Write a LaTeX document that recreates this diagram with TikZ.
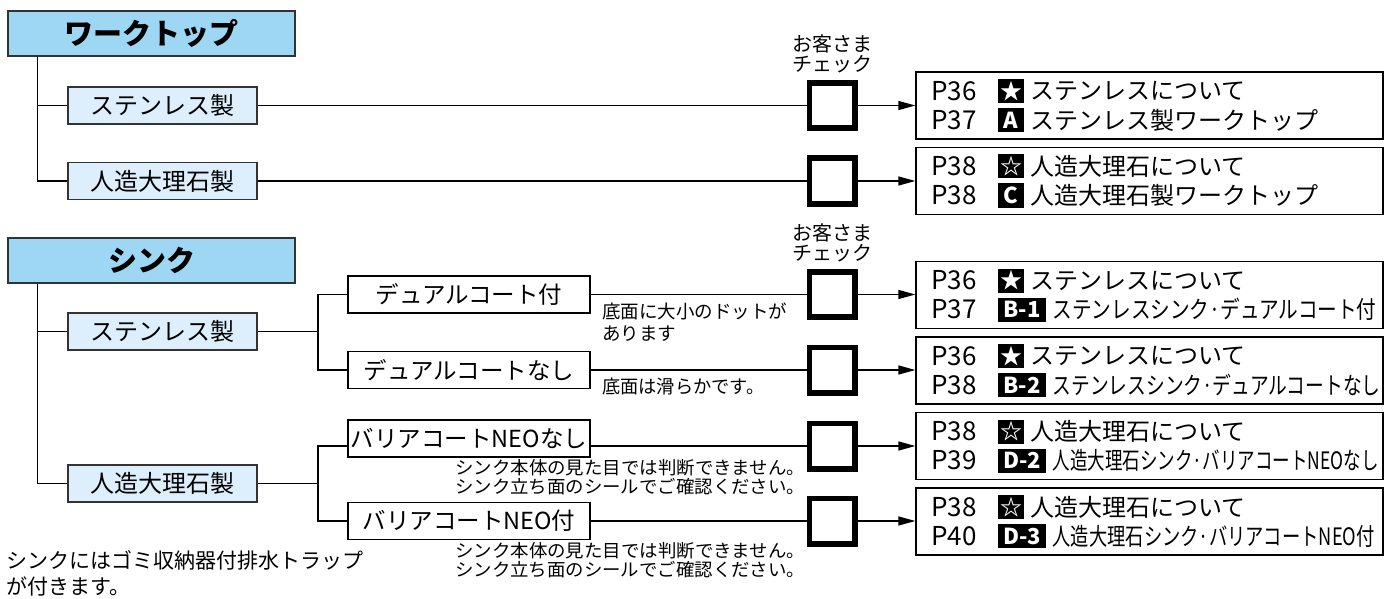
\documentclass[tikz,border=0pt]{standalone}
\usepackage{fontspec}
\setmainfont{Noto Sans CJK JP}
\usepackage{graphicx}
\usetikzlibrary{arrows.meta}
\definecolor{hdr}{HTML}{9DD7F3}
\definecolor{subfill}{HTML}{DDEFFC}
\definecolor{edge}{HTML}{333333}
\newcommand\fs[1]{\fontsize{#1}{#1}\selectfont}
\newcommand\fitw[2]{\resizebox{#1}{\height}{#2}}
\newcommand\entry[6]{%
  \node[pg] (#1p) at (931,#2) {#3};
  \node[#4] (#1b) at (998,#2) {#5};
  \node[txt] (#1t) at ([xshift=6pt]#1b.east) {#6};
}
\begin{document}
\begin{tikzpicture}[x=1pt,y=-1pt,
  hdrbox/.style={draw=edge, line width=1.5pt, fill=hdr, minimum width=287pt, minimum height=45pt, inner sep=0, font=\fs{29}\bfseries},
  subbox/.style={draw=edge, line width=1.3pt, fill=subfill, minimum width=189pt, minimum height=37pt, inner sep=0, font=\fs{24}},
  optbox/.style={draw=black, line width=1.3pt, fill=white, minimum width=242pt, minimum height=37pt, inner sep=0, font=\fs{23.5}},
  chk/.style={draw=black, fill=white, line width=5.7pt, minimum size=45.3pt, inner sep=0},
  rbox/.style={draw=black, line width=1.3pt, minimum width=467pt, minimum height=67pt, inner sep=0},
  conn/.style={line width=1.3pt},
  arr/.style={conn, -{Triangle[length=17pt,width=9pt]}},
  pg/.style={anchor=west, inner sep=0, font=\fs{26}},
  txt/.style={anchor=west, inner sep=0, font=\fs{24}},
  bsq/.style={anchor=west, fill=black, text=white, inner sep=0, minimum width=26pt, minimum height=24pt, font=\fs{22}\bfseries},
  bwide/.style={anchor=west, fill=black, text=white, inner sep=0, minimum width=48pt, minimum height=24pt, font=\fs{22}\bfseries},
  note/.style={anchor=north west, inner sep=0, align=left},
  chklabel/.style={inner sep=0, align=center, font=\fontsize{20}{20}\selectfont}
]
\useasboundingbox (0,0) rectangle (1393,599);

% ---------- Worktop ----------
\node[hdrbox] (h1) at (151.5,33.5) {ワークトップ};
\node[subbox] (w1) at (162.5,105.5) {ステンレス製};
\node[subbox] (w2) at (162.5,181) {人造大理石製};
\coordinate (t1) at ([xshift=30pt]h1.south west);
\draw[conn] (t1) |- (w1.west);
\draw[conn] (t1) |- (w2.west);

\node[chklabel] (k1) at (832,54) {お客さま\\チェック};
\node[rbox] (r1) at (1149.5,105.5) {};
\node[rbox] (r2) at (1149.5,181) {};
\draw[conn] (w1.east) -- (832,105.5) coordinate (c1in);
\draw[conn] (w2.east) -- (832,181) coordinate (c2in);
\node[chk] (c1) at (c1in) {};
\node[chk] (c2) at (c2in) {};
\draw[arr] (c1.east) -- (r1.west);
\draw[arr] (c2.east) -- (r2.west);

\entry{e1a}{91}{P36}{bsq}{★}{ステンレスについて}
\entry{e1b}{120}{P37}{bsq}{A}{ステンレス製ワークトップ}
\entry{e2a}{166.5}{P38}{bsq}{☆}{人造大理石について}
\entry{e2b}{195.5}{P38}{bsq}{C}{人造大理石製ワークトップ}

% ---------- Sink ----------
\node[hdrbox] (h2) at (151.5,260.5) {シンク};
\node[subbox] (s1) at (162.5,331.5) {ステンレス製};
\node[subbox] (s2) at (162.5,483.5) {人造大理石製};
\coordinate (t2) at ([xshift=30pt]h2.south west);
\draw[conn] (t2) |- (s1.west);
\draw[conn] (t2) |- (s2.west);

\node[optbox] (o1) at (469,294.5) {デュアルコート付};
\node[optbox] (o2) at (469,370) {デュアルコートなし};
\node[optbox] (o3) at (469,438.5) {バリアコートNEOなし};
\node[optbox] (o4) at (469,521) {バリアコートNEO付};

\coordinate (b1) at (318,331.5);
\coordinate (b2) at (318,483.5);
\draw[conn] (s1.east) -- (b1);
\draw[conn] (b1) |- (o1.west);
\draw[conn] (b1) |- (o2.west);
\draw[conn] (s2.east) -- (b2);
\coordinate (c3in) at (832,294.5);
\coordinate (c4in) at (832,370);
\coordinate (c5in) at (832,446);
\coordinate (c6in) at (832,521);
\draw[conn] (b2) |- (o3.west |- c5in);
\draw[conn] (b2) |- (o4.west);

\node[chklabel] (k2) at (832,243) {お客さま\\チェック};
\node[rbox] (r3) at (1149.5,295) {};
\node[rbox] (r4) at (1149.5,370.5) {};
\node[rbox] (r5) at (1149.5,446) {};
\node[rbox] (r6) at (1149.5,521.5) {};

\draw[conn] (o1.east) -- (c3in);
\draw[conn] (o2.east) -- (c4in);
\draw[conn] (o3.east |- c5in) -- (c5in);
\draw[conn] (o4.east) -- (c6in);
\node[chk] (c3) at (c3in) {};
\node[chk] (c4) at (c4in) {};
\node[chk] (c5) at (c5in) {};
\node[chk] (c6) at (c6in) {};
\draw[arr] (c3.east) -- (r3.west |- c3);
\draw[arr] (c4.east) -- (r4.west |- c4);
\draw[arr] (c5.east) -- (r5.west |- c5);
\draw[arr] (c6.east) -- (r6.west |- c6);

\entry{e3a}{280.5}{P36}{bsq}{★}{ステンレスについて}
\entry{e3b}{309.5}{P37}{bwide}{B-1}{\fitw{324pt}{ステンレスシンク·デュアルコート付}}
\entry{e4a}{356}{P36}{bsq}{★}{ステンレスについて}
\entry{e4b}{385}{P38}{bwide}{B-2}{\fitw{328pt}{ステンレスシンク·デュアルコートなし}}
\entry{e5a}{431.5}{P38}{bsq}{☆}{人造大理石について}
\entry{e5b}{460.5}{P39}{bwide}{D-2}{\fitw{326pt}{人造大理石シンク·バリアコートNEOなし}}
\entry{e6a}{507}{P38}{bsq}{☆}{人造大理石について}
\entry{e6b}{536}{P40}{bwide}{D-3}{\fitw{322pt}{人造大理石シンク·バリアコートNEO付}}

% ---------- notes ----------
\node[note, font=\fontsize{18.5}{22}\selectfont] (n1) at (602,303) {底面に大小のドットが\\あります};
\node[note, font=\fontsize{18.5}{22}\selectfont] (n2) at (602,378) {\fitw{162pt}{底面は滑らかです。}};
\node[note, font=\fontsize{18}{19.5}\selectfont] (n3) at (455,459) {\fitw{350pt}{シンク本体の見た目では判断できません。}\\\fitw{350pt}{シンク立ち面のシールでご確認ください。}};
\node[note, font=\fontsize{18}{19.5}\selectfont] (n4) at (455,542) {\fitw{350pt}{シンク本体の見た目では判断できません。}\\\fitw{350pt}{シンク立ち面のシールでご確認ください。}};
\node[note, font=\fontsize{21}{26}\selectfont] (n5) at (6,550) {シンクにはゴミ収納器付排水トラップ\\が付きます。};
\end{tikzpicture}
\end{document}
